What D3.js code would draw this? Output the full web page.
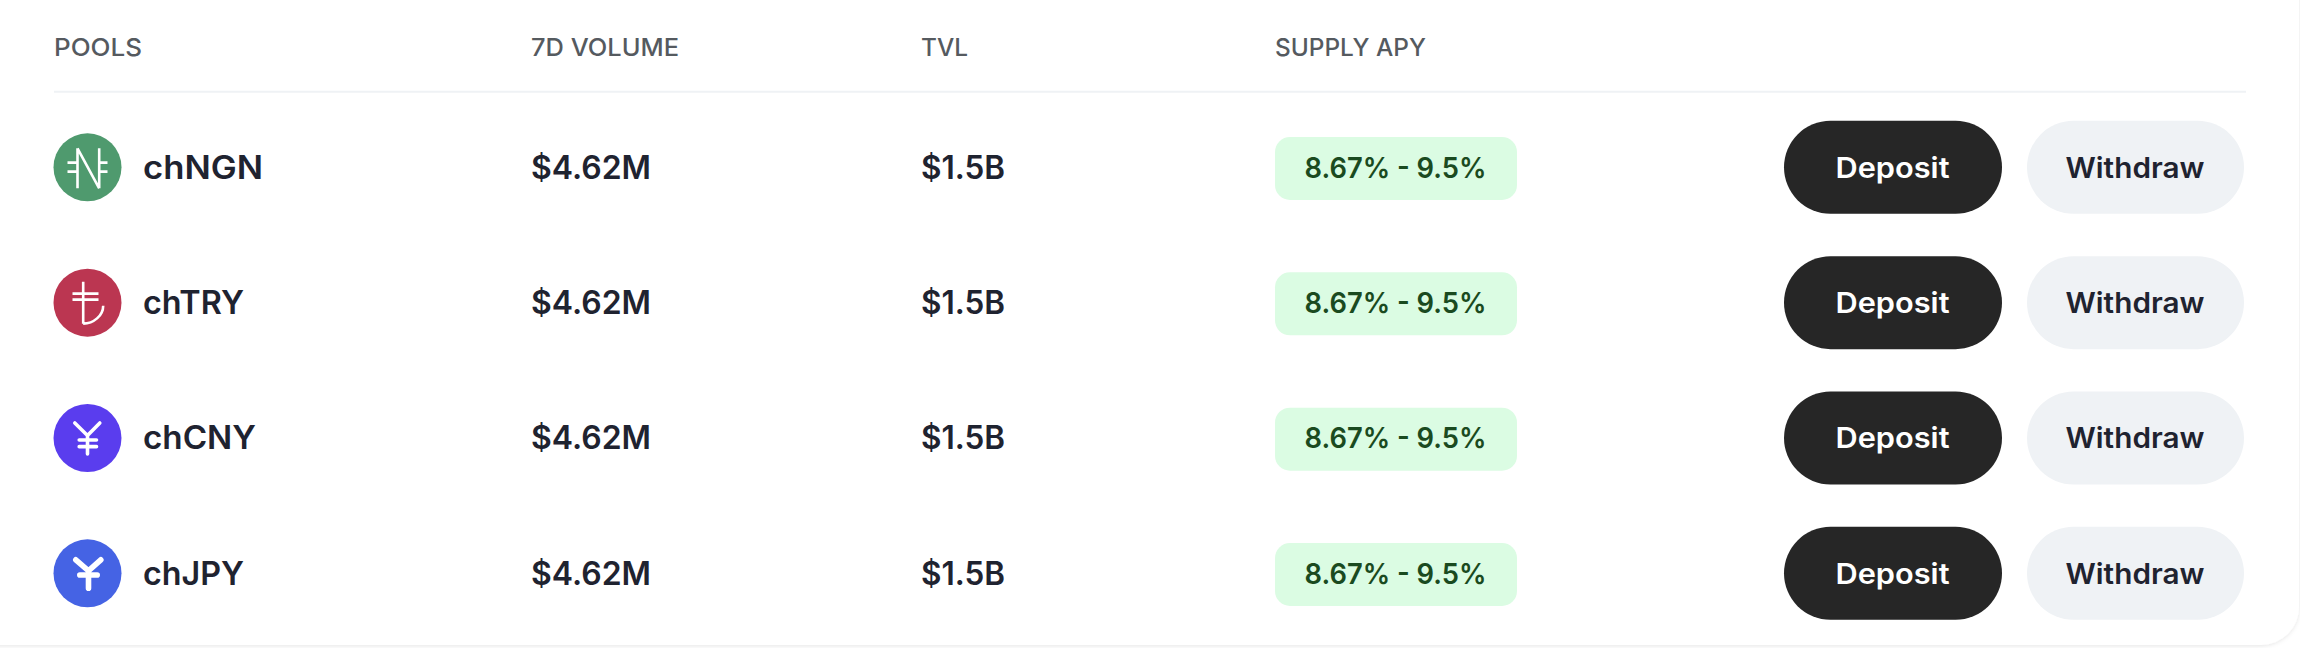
<!DOCTYPE html>
<html><head><meta charset="utf-8">
<script src="https://cdn.jsdelivr.net/npm/d3@7/dist/d3.min.js"></script>
<style>html,body{margin:0;padding:0;background:#fff}svg{display:block}text{font-family:Inter,sans-serif}</style>
</head><body><div id="c"></div>
<script>
const headers = ["POOLS","7D VOLUME","TVL","SUPPLY APY"];
const pools = ["chNGN","chTRY","chCNY","chJPY"];
const volumes = [4.62,4.62,4.62,4.62];
const tvls = [1.5,1.5,1.5,1.5];
const apyLow = [8.67,8.67,8.67,8.67];
const apyHigh = [9.5,9.5,9.5,9.5];
const poolColors = ["#4F9A6E","#BB3651","#5A3DEE","#4563E4"];
const actions = ["Deposit","Withdraw"];

const W=2300,H=648;
// measured text widths: the original face is wider than any installed font
const fit={"POOLS":88,"7D VOLUME":148,"TVL":47,"SUPPLY APY":151,"chNGN":120,"chTRY":101,"chCNY":113,"chJPY":101,"$4.62M":120,"$1.5B":84,"8.67% - 9.5%":182,"Deposit":114,"Withdraw":139};
const fitted=s=>s.attr("textLength",function(){return fit[this.textContent];}).attr("lengthAdjust","spacingAndGlyphs");

const svg=d3.select("#c").append("svg").attr("width",W).attr("height",H);
const defs=svg.append("defs");
const f=defs.append("filter").attr("id","sh").attr("x","-5%").attr("y","-5%").attr("width","110%").attr("height","110%");
f.append("feDropShadow").attr("dx",0).attr("dy",1).attr("stdDeviation",2).attr("flood-color","#000").attr("flood-opacity",0.1);
svg.append("rect").attr("x",-60).attr("y",-60).attr("width",W+59).attr("height",H+60-3).attr("rx",38).attr("fill","#fff").attr("filter","url(#sh)");

const xCol=d3.scaleOrdinal().domain(headers).range([54,531,921,1275]);
const y=d3.scalePoint().domain(pools).range([167.3,573.3]);

fitted(svg.selectAll("text.h").data(headers).join("text").attr("class","h")
 .attr("x",d=>xCol(d)).attr("y",47).attr("dy","0.36em")
 .attr("font-size",24.5).attr("font-weight",450).attr("fill","#555a5f").text(d=>d));
svg.append("line").attr("x1",54).attr("x2",2246).attr("y1",91.7).attr("y2",91.7).attr("stroke","#eff2f5").attr("stroke-width",2);

const icons={
 chNGN:{w:2.6,cap:"butt",d:"M-10-19V21M11.7-19V21M-10-19L11.7 21M-20-4.7H-10M-20 4.3H-10M11.7-4.7H20M11.7 4.3H20"},
 chTRY:{w:2.6,cap:"butt",d:"M-4.3-21V21M-15-9H11M-15-3H11M-4.3 21C6 21 15.7 13 15.7 3"},
 chCNY:{w:3.6,cap:"round",d:"M-12.7-15L0-2.5L12.3-15M0-2.5V16M-8.3 2H9M-8.3 8.7H9"},
 chJPY:{w:5.6,cap:"round",d:"M-11.7-13.5L1-2.5L13.3-13.5M1-2.5V15M-7.7 1.7H9.7"}
};
const rows=svg.selectAll("g.row").data(pools).join("g").attr("class","row");
rows.append("circle").attr("cx",87.5).attr("cy",d=>y(d)).attr("r",34).attr("fill",(d,i)=>poolColors[i]);
rows.append("path").attr("transform",d=>`translate(87.5,${y(d)})`).attr("d",d=>icons[d].d)
 .attr("fill","none").attr("stroke","#fff").attr("stroke-width",d=>icons[d].w).attr("stroke-linecap",d=>icons[d].cap);
const big=(sel)=>fitted(sel.attr("font-size",32).attr("font-weight",600).attr("dy","0.36em").attr("fill","#1f2330"));
big(rows.append("text").attr("x",143).attr("y",d=>y(d)).text(d=>d));
big(rows.append("text").attr("x",xCol("7D VOLUME")).attr("y",d=>y(d)).text((d,i)=>`$${volumes[i]}M`));
big(rows.append("text").attr("x",xCol("TVL")).attr("y",d=>y(d)).text((d,i)=>`$${tvls[i]}B`));
rows.append("rect").attr("x",xCol("SUPPLY APY")).attr("y",d=>y(d)-30.3).attr("width",242).attr("height",63).attr("rx",15).attr("fill","#DBFCE3");
fitted(rows.append("text").attr("x",1395.5).attr("y",d=>y(d)).attr("dy","0.36em").attr("text-anchor","middle")
 .attr("font-size",28.5).attr("font-weight",600).attr("fill","#1a4a20").text((d,i)=>`${apyLow[i]}% - ${apyHigh[i]}%`));
const bx=d3.scaleOrdinal().domain(actions).range([1784,2027]);
const bfill=d3.scaleOrdinal().domain(actions).range(["#262626","#EFF2F5"]);
const bt=d3.scaleOrdinal().domain(actions).range(["#ffffff","#1f2330"]);
actions.forEach(a=>{
 rows.append("rect").attr("x",bx(a)).attr("y",d=>y(d)-46.5).attr("width",a==="Deposit"?218:217).attr("height",93).attr("rx",46.5).attr("fill",bfill(a));
 fitted(rows.append("text").attr("x",bx(a)+(a==="Deposit"?108.5:108)).attr("y",d=>y(d)).attr("dy","0.36em").attr("text-anchor","middle")
  .attr("font-size",28.5).attr("font-weight",600).attr("fill",bt(a)).text(a));
});
</script></body></html>
